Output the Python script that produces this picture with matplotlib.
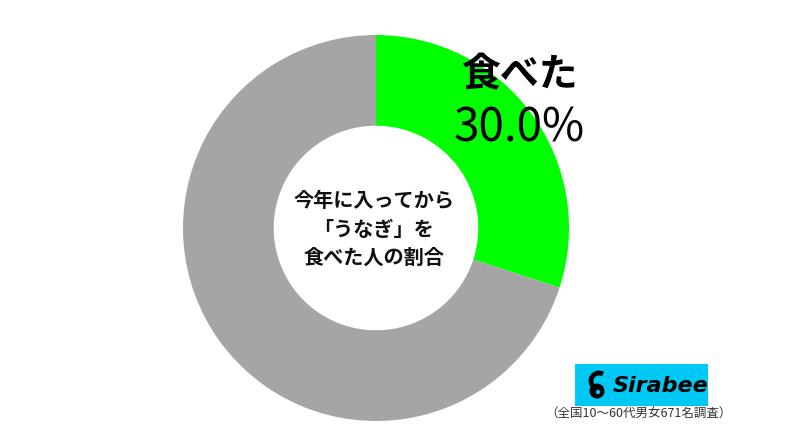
import matplotlib
matplotlib.use("Agg")
import matplotlib.pyplot as plt
from matplotlib.patches import Rectangle, Circle, Arc

plt.rcParams['font.family'] = ['Noto Sans CJK JP', 'DejaVu Sans']

# データ
labels = ["食べた", "食べていない"]
values = [30.0, 70.0]
colors = ["#00FF00", "#A5A5A5"]
center_text = "今年に入ってから\n「うなぎ」を\n食べた人の割合"
note = "（全国10〜60代男女671名調査）"

W, H = 800, 442
fig = plt.figure(figsize=(W / 100, H / 100), dpi=100)
ax = fig.add_axes([0, 0, 1, 1])

cx, cy, r = 376, H - 228, 193
ax.pie(values, colors=colors, startangle=90, counterclock=False,
       center=(cx, cy), radius=r, frame=True,
       wedgeprops=dict(width=r * 0.47, linewidth=0))
ax.set_xlim(0, W)
ax.set_ylim(0, H)
ax.set_aspect('equal')
ax.axis('off')

# 中央テキスト
ax.text(cx - 2, cy - 1, center_text, ha='center', va='center', fontsize=14.5,
        fontweight='bold', linespacing=1.42, color='#111111')

# ラベル
ax.text(519, H - 75, labels[0], ha='center', va='center', fontsize=28,
        fontweight='bold', color='black')
ax.text(519, H - 128, f"{values[0]:.1f}%", ha='center', va='center', fontsize=33,
        color='black')

# ロゴ
ax.add_patch(Rectangle((575, H - 406), 133, 42, color='#00C8F5', lw=0))
ax.add_patch(Circle((597, H - 391), 7.5, color='black', lw=0))
ax.add_patch(Arc((599, H - 381), 16, 16, theta1=60, theta2=215, color='black', lw=3.5))
ax.add_patch(Circle((598, H - 392), 2.2, color='#00C8F5', lw=0))
ax.text(613, H - 386, "Sirabee", ha='left', va='center', fontsize=16,
        fontweight='bold', style='italic', color='black', family='DejaVu Sans')

# 注記
ax.text(638, H - 414, note, ha='center', va='center', fontsize=9, color='#333333')

fig.savefig("out.png", dpi=100)
